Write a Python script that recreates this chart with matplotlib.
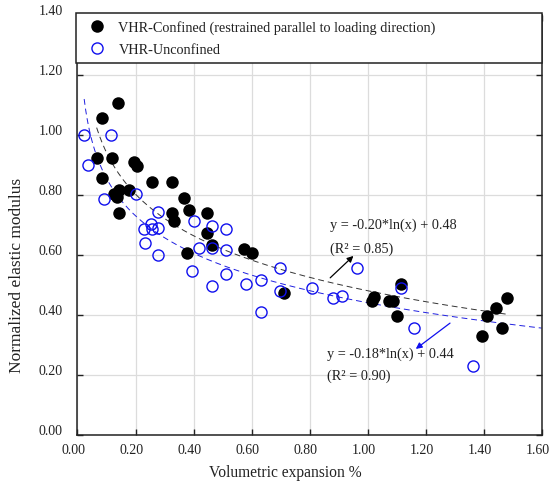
import numpy as np
import matplotlib
matplotlib.use("Agg")
import matplotlib.pyplot as plt
from matplotlib.transforms import ScaledTranslation

plt.rcParams['font.family'] = ['Liberation Serif', 'DejaVu Serif']

# Confined specimens (restrained parallel to loading direction)
conf_x = [0.066, 0.086, 0.141, 0.120, 0.196, 0.204, 0.086, 0.256, 0.325, 0.144,
          0.179, 0.127, 0.135, 0.144, 0.367, 0.386, 0.325, 0.334, 0.447, 0.447,
          0.463, 0.376, 0.575, 0.601, 0.713, 1.114, 1.022, 1.014, 1.072, 1.087,
          1.100, 1.411, 1.442, 1.480, 1.394, 1.464]
conf_y = [0.922, 1.055, 1.106, 0.922, 0.908, 0.897, 0.856, 0.843, 0.843, 0.817,
          0.817, 0.802, 0.791, 0.739, 0.789, 0.750, 0.739, 0.711, 0.738, 0.671,
          0.633, 0.605, 0.619, 0.606, 0.473, 0.502, 0.460, 0.447, 0.447, 0.447,
          0.396, 0.395, 0.421, 0.456, 0.330, 0.355]

# Unconfined specimens
unconf_x = [0.023, 0.114, 0.037, 0.092, 0.202, 0.278, 0.252, 0.229, 0.256, 0.279,
            0.233, 0.276, 0.403, 0.464, 0.511, 0.419, 0.464, 0.511, 0.394, 0.511,
            0.464, 0.580, 0.632, 0.697, 0.697, 0.634, 0.808, 0.880, 0.913, 0.965,
            1.114, 1.160, 1.363]
unconf_y = [1.000, 1.000, 0.900, 0.787, 0.801, 0.743, 0.701, 0.686, 0.686, 0.688,
            0.640, 0.600, 0.712, 0.697, 0.685, 0.621, 0.621, 0.616, 0.547, 0.535,
            0.496, 0.501, 0.516, 0.556, 0.479, 0.410, 0.490, 0.455, 0.461, 0.555,
            0.488, 0.355, 0.228]

# Logarithmic fits: y = a*ln(x) + b, with R²
conf_fit = (-0.20, 0.48, 0.85)
unconf_fit = (-0.18, 0.44, 0.90)

x_ticks = [0.0, 0.2, 0.4, 0.6, 0.8, 1.0, 1.2, 1.4, 1.6]
y_ticks = [0.0, 0.2, 0.4, 0.6, 0.8, 1.0, 1.2, 1.4]

TXT = '#222222'
BLUE = '#1010ee'

fig = plt.figure(figsize=(5.5, 4.85), dpi=100)
ax = fig.add_axes([0.1409, 0.1016, 0.8440, 0.8660])

ax.set_xlim(0, 1.6)
ax.set_ylim(0, 1.4)
ax.set_xticks(x_ticks)
ax.set_yticks(y_ticks)
ax.set_xticklabels([f"{v:.2f}" for v in x_ticks])
ax.set_yticklabels([f"{v:.2f}" for v in y_ticks])
ax.grid(True, color='#dcdcdc', linewidth=0.9)
ax.set_axisbelow(True)

ax.tick_params(direction='in', length=4, width=1, top=True, right=True,
               labelsize=10, colors=TXT)
ax.tick_params(axis='y', pad=10.5)
ax.tick_params(axis='x', pad=6)
for sp in ax.spines.values():
    sp.set_linewidth(1.1)
    sp.set_color(TXT)

# nudge tick labels slightly (x labels left, y labels up)
dx = ScaledTranslation(-4 / 100, 0, fig.dpi_scale_trans)
dy = ScaledTranslation(0, 5.5 / 100, fig.dpi_scale_trans)
for lbl in ax.get_xticklabels():
    lbl.set_transform(lbl.get_transform() + dx)
for lbl in ax.get_yticklabels():
    lbl.set_transform(lbl.get_transform() + dy)

# Fit curves
xc = np.linspace(min(conf_x), max(conf_x), 300)
ax.plot(xc, conf_fit[0] * np.log(xc) + conf_fit[1], color='#333333',
        linestyle=(0, (6, 4)), linewidth=0.7, zorder=2)
xu = np.linspace(min(unconf_x), 1.6, 300)
ax.plot(xu, unconf_fit[0] * np.log(xu) + unconf_fit[1], color='#1f1fe0',
        linestyle=(0, (6, 4)), linewidth=0.7, zorder=2)

ax.plot(conf_x, conf_y, 'o', color='black', markersize=9, markeredgewidth=0,
        label='VHR-Confined (restrained parallel to loading direction)', zorder=3)
ax.plot(unconf_x, unconf_y, 'o', markerfacecolor='none', markeredgecolor=BLUE,
        markersize=8, markeredgewidth=1.0, label='VHR-Unconfined', zorder=4)

leg = ax.legend(loc='upper left', bbox_to_anchor=(-0.004, 1.004, 1.004, 0.0),
                mode='expand', frameon=True, fancybox=False, fontsize=10.25,
                borderpad=0.5, handletextpad=0.45, labelspacing=0.6,
                handlelength=2.05, borderaxespad=0)
leg.get_frame().set_edgecolor(TXT)
leg.get_frame().set_linewidth(1.1)
leg.get_frame().set_alpha(1)
for t in leg.get_texts():
    t.set_color(TXT)

# Equation labels with arrows
ax.text(0.871, 0.700, f"y = {conf_fit[0]:.2f}*ln(x) + {conf_fit[1]:.2f}",
        fontsize=10.25, va='center', ha='left', color=TXT)
ax.text(0.871, 0.622, f"(R² = {conf_fit[2]:.2f})", fontsize=10.25, va='center',
        ha='left', color=TXT)
ax.annotate('', xy=(0.951, 0.596), xytext=(0.871, 0.523),
            arrowprops=dict(arrowstyle='-|>', color='black', lw=0.9,
                            mutation_scale=9, shrinkA=0, shrinkB=0))

ax.text(0.859, 0.272, f"y = {unconf_fit[0]:.2f}*ln(x) + {unconf_fit[1]:.2f}",
        fontsize=10.25, va='center', ha='left', color=TXT)
ax.text(0.859, 0.197, f"(R² = {unconf_fit[2]:.2f})", fontsize=10.25, va='center',
        ha='left', color=TXT)
ax.annotate('', xy=(1.166, 0.286), xytext=(1.284, 0.372),
            arrowprops=dict(arrowstyle='-|>', color=BLUE, lw=0.9,
                            mutation_scale=9, shrinkA=0, shrinkB=0))

xl = ax.set_xlabel('Volumetric expansion %', fontsize=11.2, color=TXT)
xl.set_va('center')
ax.xaxis.set_label_coords(0.447, -0.0888)
yl = ax.set_ylabel('Normalized elastic modulus', fontsize=12.5, color=TXT)
yl.set_va('center')
ax.yaxis.set_label_coords(-0.131, 0.381)

fig.savefig('out.png', dpi=100)
